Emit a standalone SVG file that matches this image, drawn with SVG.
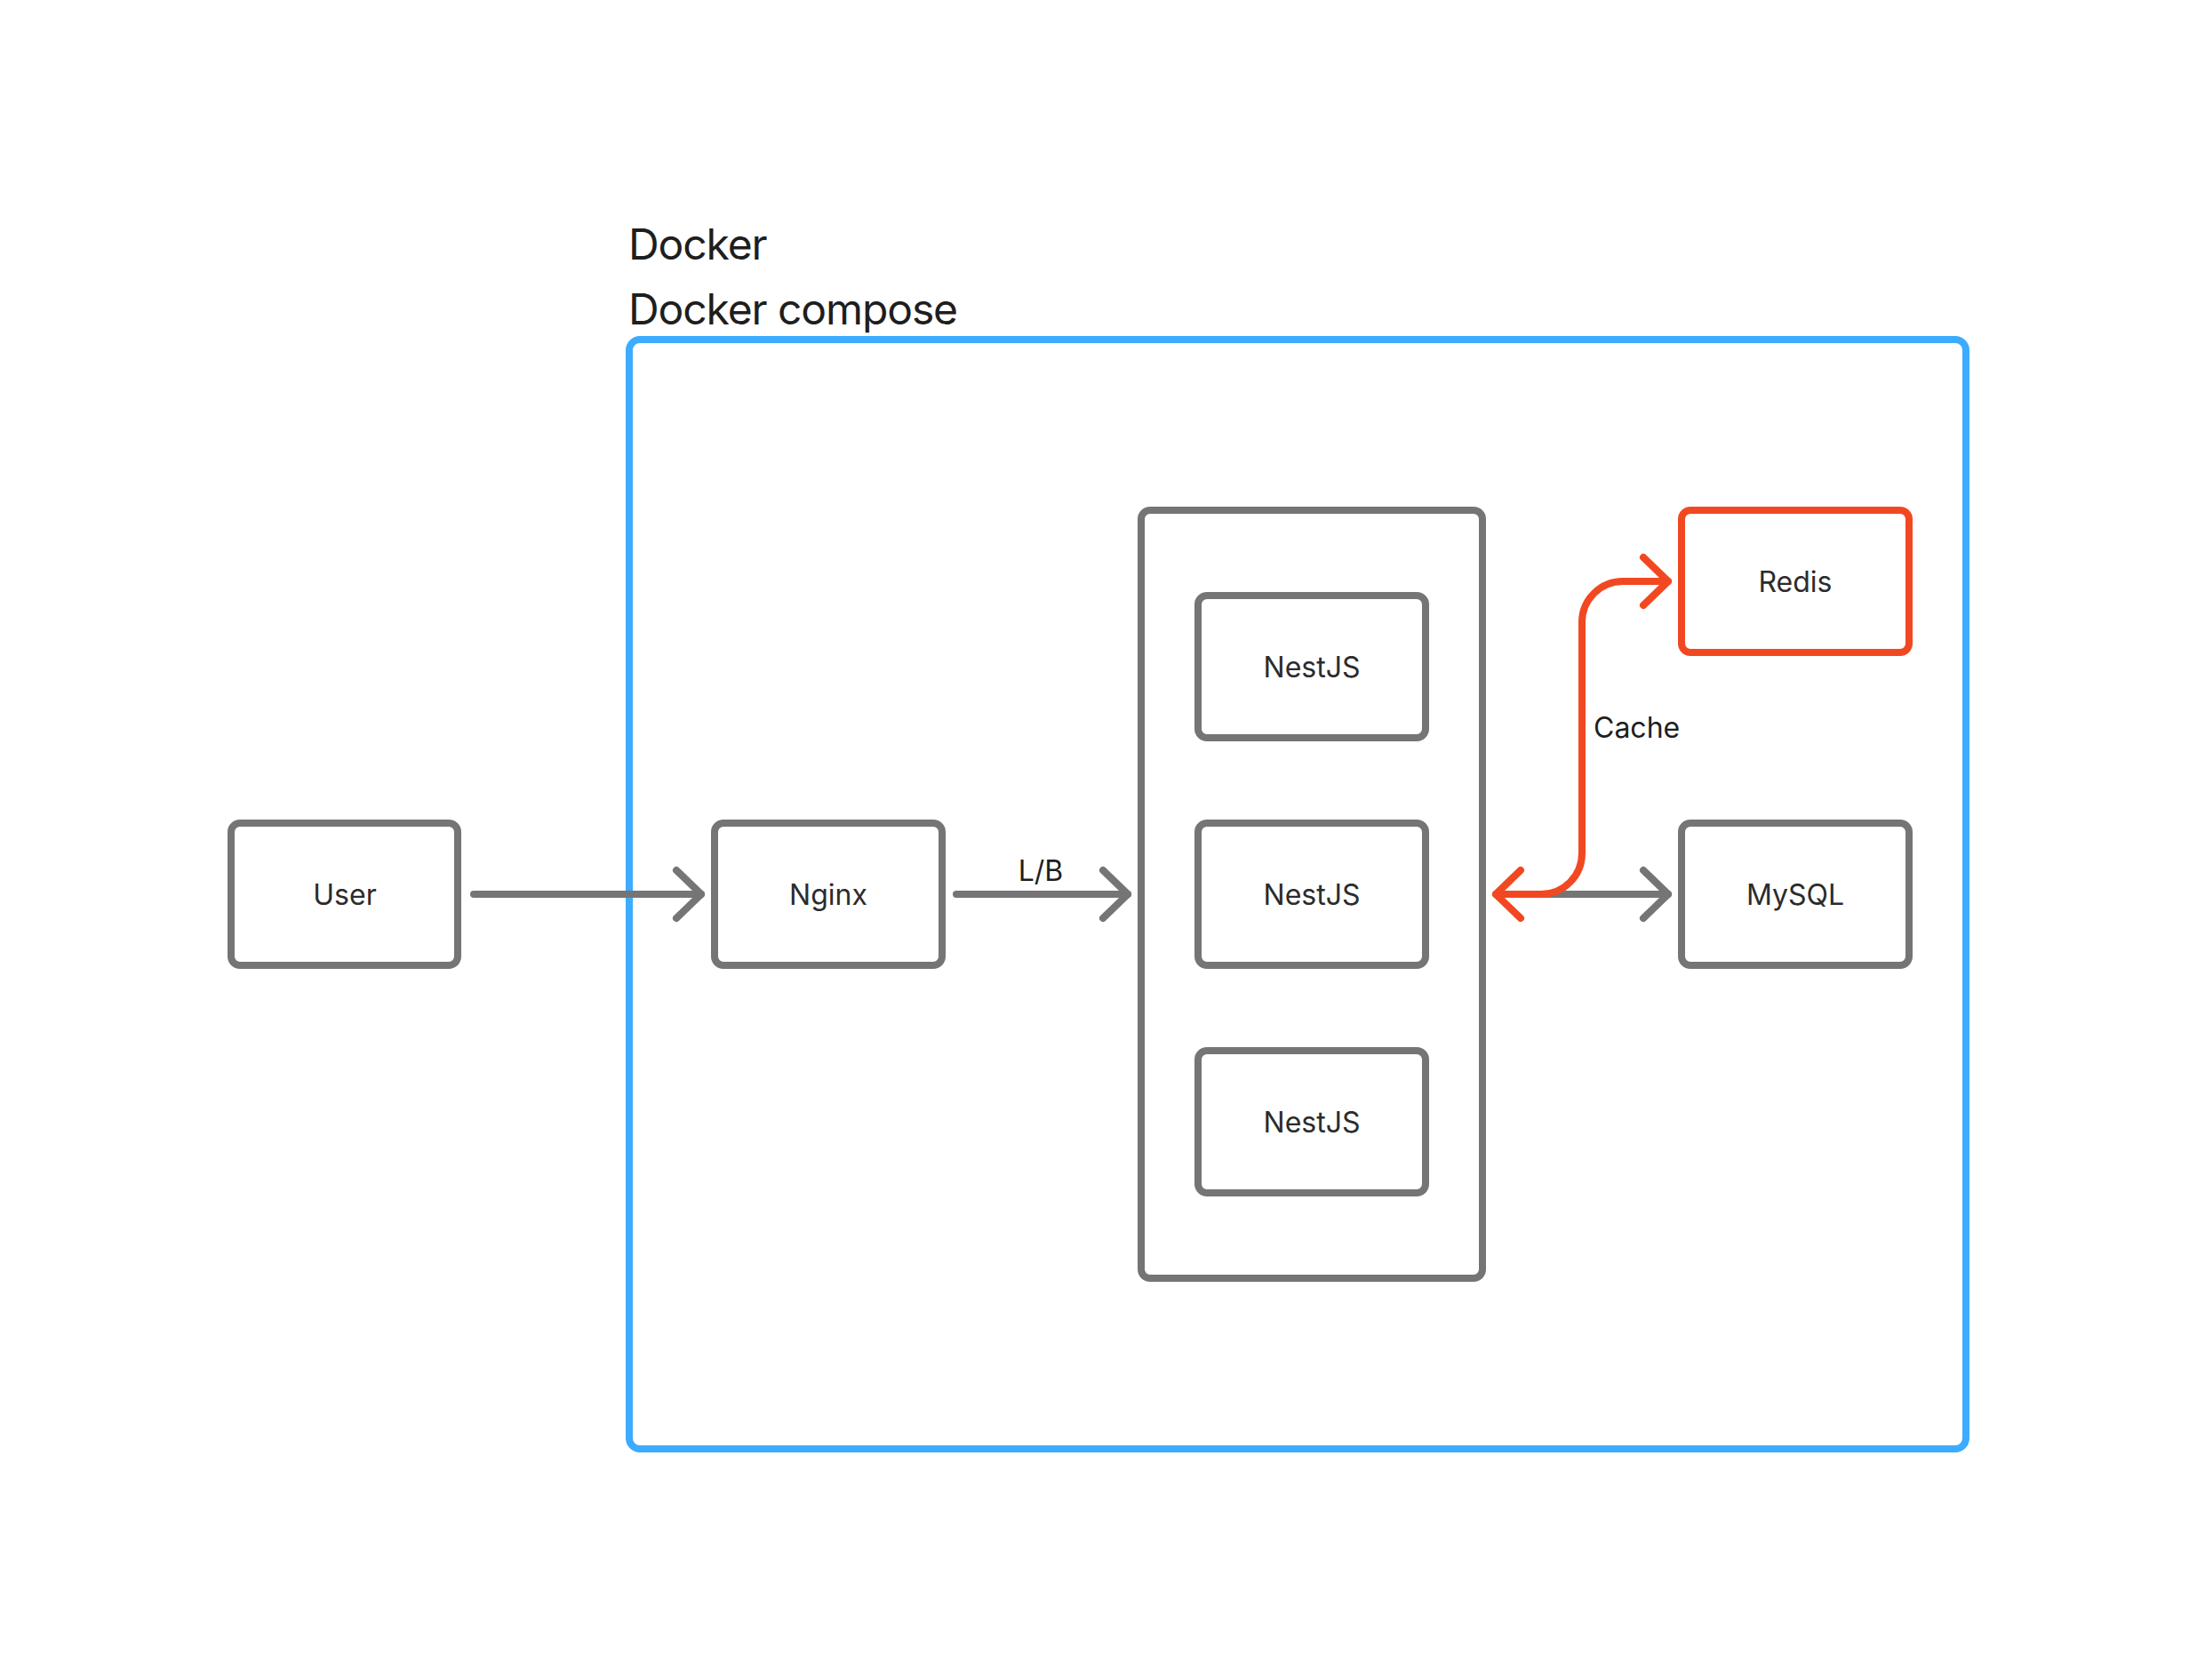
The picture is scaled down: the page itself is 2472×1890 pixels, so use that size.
<svg xmlns="http://www.w3.org/2000/svg" width="2472" height="1890" viewBox="0 0 2472 1890">
  <style>
    .box { fill: #FFFFFF; stroke: #757575; stroke-width: 8; }
    .red { fill: #FFFFFF; stroke: #F24822; stroke-width: 8; }
    .frame { fill: none; stroke: #3DABFF; stroke-width: 8; }
    .lbl { font-family: Inter, "Noto Sans", "Liberation Sans", sans-serif; font-size: 32px; fill: #2C2C2C; text-anchor: middle; }
    .edge-lbl { font-family: Inter, "Noto Sans", "Liberation Sans", sans-serif; font-size: 32px; fill: #1E1E1E; }
    .title { font-family: Inter, "Noto Sans", "Liberation Sans", sans-serif; font-size: 48px; letter-spacing: -1.1px; fill: #1E1E1E; }
    .gline { fill: none; stroke: #757575; stroke-width: 8; stroke-linecap: round; stroke-linejoin: round; }
    .rline { fill: none; stroke: #F24822; stroke-width: 8; stroke-linecap: round; stroke-linejoin: round; }
  </style>
  <defs>
    <marker id="ahGray" markerUnits="userSpaceOnUse" viewBox="-40 -40 50 80" refX="0" refY="0" markerWidth="50" markerHeight="80" orient="auto-start-reverse" overflow="visible">
      <path d="M -28 -27 L 0 0 L -28 27" fill="none" stroke="#757575" stroke-width="8" stroke-linecap="round" stroke-linejoin="round"/>
    </marker>
    <marker id="ahRed" markerUnits="userSpaceOnUse" viewBox="-40 -40 50 80" refX="0" refY="0" markerWidth="50" markerHeight="80" orient="auto-start-reverse" overflow="visible">
      <path d="M -28 -27 L 0 0 L -28 27" fill="none" stroke="#F24822" stroke-width="8" stroke-linecap="round" stroke-linejoin="round"/>
    </marker>
  </defs>
  <rect x="0" y="0" width="2472" height="1890" fill="#FFFFFF"/>

  <g id="docker-compose">
    <text class="title" x="707" y="292">Docker</text>
    <text class="title" x="707" y="365">Docker compose</text>
    <rect class="frame" x="708" y="382" width="1504" height="1248" rx="12"/>
  </g>

  <g id="user">
    <rect class="box" x="260" y="926" width="255" height="160" rx="10"/>
    <text class="lbl" x="388" y="1018">User</text>
  </g>

  <g id="nginx">
    <rect class="box" x="804" y="926" width="256" height="160" rx="10"/>
    <text class="lbl" x="932" y="1018">Nginx</text>
  </g>

  <g id="nest-group">
    <rect class="box" x="1284" y="574" width="384" height="864" rx="10"/>
  </g>

  <g id="nest1">
    <rect class="box" x="1348" y="670" width="256" height="160" rx="10"/>
    <text class="lbl" x="1476" y="762">NestJS</text>
  </g>
  <g id="nest2">
    <rect class="box" x="1348" y="926" width="256" height="160" rx="10"/>
    <text class="lbl" x="1476" y="1018">NestJS</text>
  </g>
  <g id="nest3">
    <rect class="box" x="1348" y="1182" width="256" height="160" rx="10"/>
    <text class="lbl" x="1476" y="1274">NestJS</text>
  </g>

  <g id="redis">
    <rect class="red" x="1892" y="574" width="256" height="160" rx="10"/>
    <text class="lbl" x="2020" y="666">Redis</text>
  </g>

  <g id="mysql">
    <rect class="box" x="1892" y="926" width="256" height="160" rx="10"/>
    <text class="lbl" x="2020" y="1018">MySQL</text>
  </g>

  <g id="connectors">
    <path class="gline" d="M 533 1006 L 789 1006" marker-end="url(#ahGray)"/>
    <path class="gline" d="M 1076 1006 L 1269 1006" marker-end="url(#ahGray)"/>
    <text class="edge-lbl" x="1171" y="991" text-anchor="middle">L/B</text>
    <path class="gline" d="M 1690 1006 L 1877 1006" marker-end="url(#ahGray)"/>
    <path class="rline" d="M 1683 1006 L 1734 1006 A 46 46 0 0 0 1780 960 L 1780 700 A 46 46 0 0 1 1826 654 L 1877 654" marker-start="url(#ahRed)" marker-end="url(#ahRed)"/>
    <text class="edge-lbl" x="1793" y="830">Cache</text>
  </g>
</svg>
